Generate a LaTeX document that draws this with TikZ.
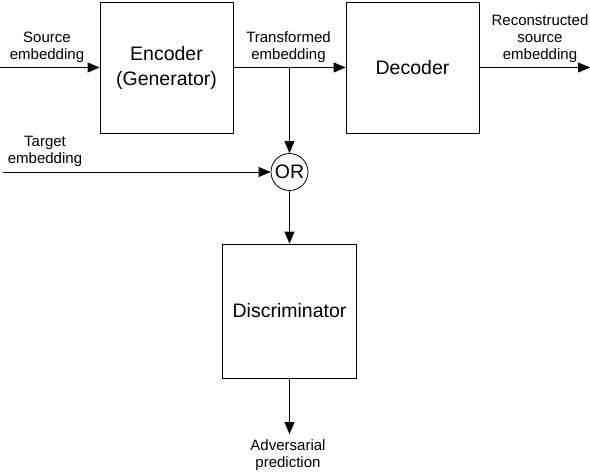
\documentclass[tikz,border=0pt]{standalone}
\usepackage{fontspec}
\setmainfont{Liberation Sans}
\usetikzlibrary{positioning, arrows.meta}

\begin{document}
\begin{tikzpicture}[x=1pt, y=-1pt, line width=0.8pt,
    block/.style={draw, minimum width=133pt, minimum height=131pt, inner sep=0pt,
        align=center, font=\fontsize{19.5}{25}\selectfont},
    gate/.style={draw, circle, minimum size=37pt, inner sep=0pt,
        font=\fontsize{19.5}{22}\selectfont},
    lbl/.style={align=center, inner sep=0pt, font=\fontsize{15}{17}\selectfont},
    flow/.style={-{Triangle[length=12pt, width=10pt]}}]

    \useasboundingbox (0,0) rectangle (590,472);

    \node[block] (enc) at (166.5,67.5) {Encoder\\(Generator)};
    \node[block] (dec) at (412.5,67.5) {Decoder};
    \node[gate] (or) at (289.5,172) {OR};
    \node[block, minimum width=134pt, minimum height=134pt] (dis) at (289.5,311) {Discriminator};

    \coordinate (src) at (0,67.5);
    \coordinate (tgt) at (3,172);
    \coordinate (rec) at (590,67.5);
    \coordinate (adv) at (289.5,434);
    \coordinate (split) at (enc.east -| or.north);

    \draw[flow] (src) -- (enc);
    \draw[flow] (enc) -- (dec);
    \draw[flow] (dec) -- (rec);
    \draw[flow] (split) -- (or);
    \draw[flow] (tgt) -- (or);
    \draw[flow] (or) -- (dis);
    \draw[flow] (dis) -- (adv);

    \node[lbl] (srclbl) at (47,47.5) {Source\\embedding};
    \node[lbl] (translbl) at (288.5,47.5) {Transformed\\embedding};
    \node[lbl] (reclbl) at (540,39) {Reconstructed\\source\\embedding};
    \node[lbl] (tgtlbl) at (45,151) {Target\\embedding};
    \node[lbl] (advlbl) at (288,455) {Adversarial\\prediction};

\end{tikzpicture}
\end{document}
